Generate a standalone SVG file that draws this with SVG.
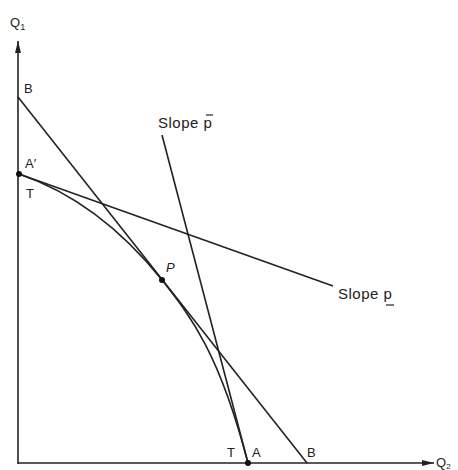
<svg xmlns="http://www.w3.org/2000/svg" width="458" height="470" viewBox="0 0 458 470">
<defs>
<style>
.ln{stroke:#222;stroke-width:1.6;fill:none}
.t{font-family:"Liberation Sans",Arial,sans-serif;font-size:13px;fill:#222}
.s{font-size:15px;letter-spacing:0.5px}
.dot{fill:#111}
</style>
<marker id="ah" viewBox="0 0 12 6" refX="12" refY="3" markerWidth="12" markerHeight="6" markerUnits="userSpaceOnUse" orient="auto">
<path d="M0,0 L12,3 L0,6 Z" fill="#222"/>
</marker>
</defs>
<rect width="458" height="470" fill="#fff"/>
<g id="axes">
<line class="ln" x1="18" y1="464" x2="18" y2="41" marker-end="url(#ah)"/>
<line class="ln" x1="18" y1="463" x2="434" y2="463" marker-end="url(#ah)"/>
<text class="t" x="10" y="27" font-size="14">Q<tspan font-size="9" dy="3">1</tspan></text>
<text class="t" x="436" y="467" font-size="13">Q<tspan font-size="8" dy="2">2</tspan></text>
</g>
<g id="connectors">
<line class="ln" x1="18" y1="97" x2="307" y2="463"/>
<line class="ln" x1="19" y1="174" x2="333" y2="286"/>
<line class="ln" x1="162" y1="135" x2="248" y2="463"/>
<path class="ln" d="M19,174 C66,190 114,220 162,280 C191,317 219,352 248,463"/>
</g>
<g id="Aprime">
<circle class="dot" cx="19" cy="174" r="3"/>
<text class="t" x="25" y="168">A′</text>
<text class="t" x="26" y="198">T</text>
</g>
<g id="Bt"><text class="t" x="24" y="93">B</text></g>
<g id="P">
<circle class="dot" cx="162" cy="280" r="3"/>
<text class="t" x="166" y="272" font-style="italic">P</text>
</g>
<g id="A">
<circle class="dot" cx="248" cy="463" r="3"/>
<text class="t" x="227" y="457">T</text>
<text class="t" x="252" y="457">A</text>
</g>
<g id="Bb"><text class="t" x="307" y="457">B</text></g>
<g id="slopeHigh">
<text class="t s" x="158" y="128">Slope p</text>
<line x1="206" y1="115" x2="213" y2="115" stroke="#222" stroke-width="1.2"/>
</g>
<g id="slopeLow">
<text class="t s" x="338" y="299">Slope p</text>
<line x1="386" y1="305" x2="394" y2="305" stroke="#222" stroke-width="1.2"/>
</g>
</svg>
